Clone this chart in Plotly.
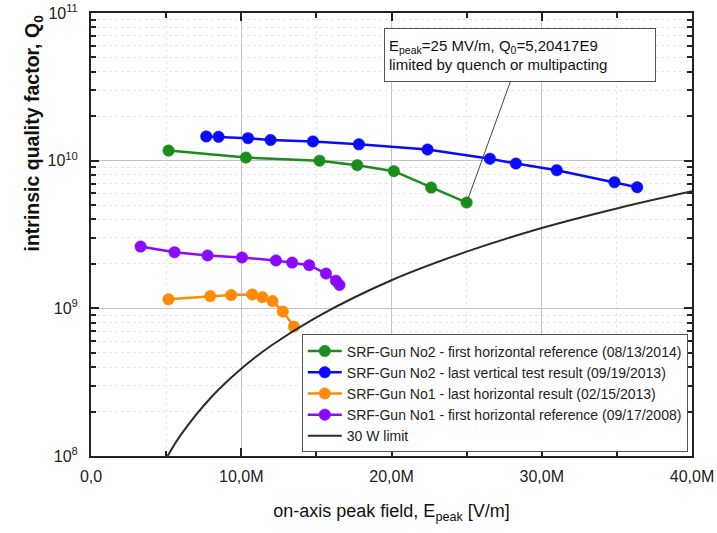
import math
import plotly.graph_objects as go

# ---- data (E in MV/m, Q0 dimensionless) ----
no2_h_E = [5.16, 10.31, 15.21, 17.72, 20.16, 22.64, 25.0]
no2_h_Q = [1.17e10, 1.05e10, 1.00e10, 9.32e9, 8.49e9, 6.57e9, 5.204e9]

no2_v_E = [7.67, 8.49, 10.45, 11.95, 14.77, 17.83, 22.40, 26.55, 28.28, 31.00, 34.84, 36.35]
no2_v_Q = [1.46e10, 1.45e10, 1.42e10, 1.38e10, 1.35e10, 1.29e10, 1.19e10, 1.03e10, 9.56e9, 8.62e9, 7.15e9, 6.61e9]

no1_h_E = [5.16, 7.94, 9.33, 10.73, 11.40, 12.08, 12.77, 13.51]
no1_h_Q = [1.15e9, 1.21e9, 1.23e9, 1.24e9, 1.19e9, 1.12e9, 9.50e8, 7.52e8]

no1_ref_E = [3.30, 5.56, 7.76, 10.05, 12.31, 13.39, 14.52, 15.64, 16.30, 16.54]
no1_ref_Q = [2.62e9, 2.40e9, 2.28e9, 2.21e9, 2.11e9, 2.04e9, 1.96e9, 1.72e9, 1.54e9, 1.44e9]

limit_E = [5.1, 6, 8, 10, 12, 15, 20, 25, 30, 35, 40]
limit_Q = [1.0e8, 1.4e8, 2.5e8, 3.9e8, 5.6e8, 8.7e8, 1.55e9, 2.42e9, 3.5e9, 4.75e9, 6.2e9]

x_tickvals = [0, 10, 20, 30, 40]
x_ticktext = ["0,0", "10,0M", "20,0M", "30,0M", "40,0M"]
x_minor = [5, 15, 25, 35]
y_tickvals = [1e8, 1e9, 1e10, 1e11]
y_ticktext = ["10<sup>8</sup>", "10<sup>9</sup>", "10<sup>10</sup>", "10<sup>11</sup>"]
y_minor = [m * 10 ** d for d in (8, 9, 10) for m in range(2, 10)]

names = [
    "SRF-Gun No2 - first horizontal reference (08/13/2014)",
    "SRF-Gun No2 - last vertical test result (09/19/2013)",
    "SRF-Gun No1 - last horizontal result (02/15/2013)",
    "SRF-Gun No1 - first horizontal reference (09/17/2008)",
    "30 W limit",
]
colors = ["#1c8c1c", "#0a0aff", "#ff8a0a", "#8a0aff"]

FONT = "Liberation Sans, Arial, sans-serif"

fig = go.Figure()
series = [(no2_h_E, no2_h_Q), (no2_v_E, no2_v_Q), (no1_h_E, no1_h_Q), (no1_ref_E, no1_ref_Q)]
for (ex, qy), nm, c in zip(series, names[:4], colors):
    fig.add_trace(go.Scatter(
        x=ex, y=qy, name=nm, mode="lines+markers",
        line=dict(color=c, width=2.5),
        marker=dict(color=c, size=11.5, line=dict(color=c, width=0.5)),
    ))
fig.add_trace(go.Scatter(
    x=limit_E, y=limit_Q, name=names[4], mode="lines",
    line=dict(color="#2b2b2b", width=2, shape="spline"),
))

fig.update_layout(
    width=717, height=533,
    margin=dict(l=91, r=25, t=13, b=77),
    plot_bgcolor="white", paper_bgcolor="white",
    font=dict(family=FONT, color="#222"),
    showlegend=True,
    legend=dict(
        x=0.993, y=0.008, xanchor="right", yanchor="bottom",
        bgcolor="white", bordercolor="#555", borderwidth=1,
        font=dict(size=14, family=FONT, color="#222"),
        tracegroupgap=0, itemwidth=34,
    ),
)

fig.update_xaxes(
    range=[0, 40], tickvals=x_tickvals, ticktext=x_ticktext, automargin=False,
    ticklabeloverflow="allow", ticklabelstandoff=5,
    showline=True, linecolor="#222", linewidth=2, mirror="ticks",
    ticks="inside", ticklen=8, tickwidth=1.5, tickcolor="#222",
    showgrid=True, gridcolor="#c4c4c4", gridwidth=1,
    tickfont=dict(size=16, family=FONT, color="#222"),
    minor=dict(tickvals=x_minor, ticks="inside", ticklen=5, tickcolor="#222",
               showgrid=True, gridcolor="#e6e6e6", griddash="dot"),
    zeroline=False,
    title=dict(text="on-axis peak field, E<sub>peak</sub> [V/m]",
               font=dict(size=18, family=FONT, color="#111"), standoff=20),
)
fig.update_yaxes(
    type="log", range=[8, 11], tickvals=y_tickvals, ticktext=y_ticktext, automargin=False,
    ticklabeloverflow="allow", ticklabelstandoff=8,
    showline=True, linecolor="#222", linewidth=2, mirror="ticks",
    ticks="inside", ticklen=8, tickwidth=1.5, tickcolor="#222",
    showgrid=True, gridcolor="#c4c4c4", gridwidth=1,
    tickfont=dict(size=16, family=FONT, color="#222"),
    minor=dict(tickvals=y_minor, ticks="inside", ticklen=5, tickcolor="#222",
               showgrid=True, gridcolor="#e6e6e6", griddash="dot"),
    zeroline=False,
)

# y-axis title (top aligned as in the reference)
fig.add_annotation(
    xref="paper", yref="paper", x=-0.0965, y=1.0, xanchor="center", yanchor="top",
    text="<b>intrinsic quality factor, Q<sub>0</sub></b>", textangle=-90,
    showarrow=False, font=dict(size=19.5, family=FONT, color="#111"),
)

# callout annotation (log axis -> positions in log10 units)
fig.add_annotation(
    x=no2_h_E[-1], y=math.log10(no2_h_Q[-1]), xref="x", yref="y",
    ax=28.56, ay=10.717, axref="x", ayref="y",
    text="E<sub>peak</sub>=25 MV/m, Q<sub>0</sub>=5,20417E9<br>limited by quench or multipacting",
    showarrow=True, arrowhead=0, arrowwidth=1, arrowcolor="#444",
    align="left", width=262, height=44,
    bgcolor="white", bordercolor="#555", borderwidth=1, borderpad=4,
    font=dict(size=15, family=FONT, color="#111"),
    standoff=4,
)

# remove the browser's default 8px body margin so the figure fills the window
fig.write_html("out.html", config={"displayModeBar": False},
               post_script="document.body.style.margin='0px';")
